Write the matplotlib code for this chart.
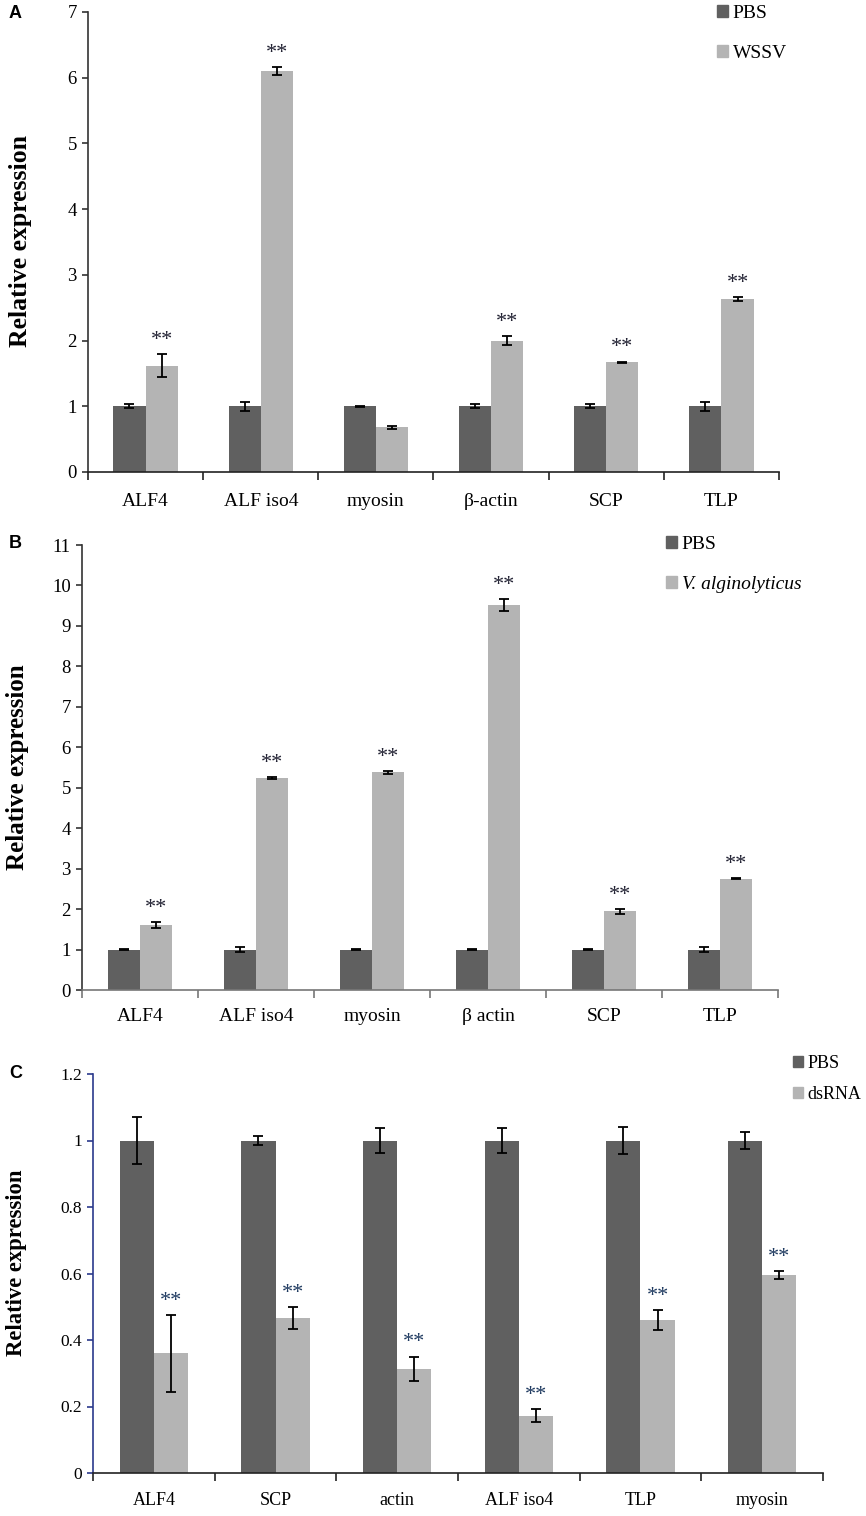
import matplotlib.pyplot as plt
import numpy as np
from matplotlib.patches import Patch

plt.rcParams['font.family'] = ['Liberation Serif', 'DejaVu Serif']

# panel A data
genes_a = ["ALF4", "ALF iso4", "myosin", "β-actin", "SCP", "TLP"]
pbs_a = [1.0, 1.0, 1.0, 1.0, 1.0, 1.0]
pbs_a_err = [0.03, 0.07, 0.01, 0.03, 0.03, 0.07]
wssv_a = [1.62, 6.1, 0.68, 2.0, 1.67, 2.63]
wssv_a_err = [0.18, 0.06, 0.02, 0.07, 0.01, 0.03]
star_a = [True, True, False, True, True, True]

# panel B data
genes_b = ["ALF4", "ALF iso4", "myosin", "β actin", "SCP", "TLP"]
pbs_b = [1.0, 1.0, 1.0, 1.0, 1.0, 1.0]
pbs_b_err = [0.01, 0.07, 0.01, 0.01, 0.01, 0.07]
vib_b = [1.6, 5.24, 5.38, 9.52, 1.95, 2.75]
vib_b_err = [0.07, 0.03, 0.03, 0.15, 0.06, 0.01]
star_b = [True, True, True, True, True, True]

# panel C data
genes_c = ["ALF4", "SCP", "actin", "ALF iso4", "TLP", "myosin"]
pbs_c = [1.0, 1.0, 1.0, 1.0, 1.0, 1.0]
pbs_c_err = [0.072, 0.015, 0.037, 0.037, 0.04, 0.025]
ds_c = [0.36, 0.467, 0.313, 0.172, 0.46, 0.595]
ds_c_err = [0.115, 0.033, 0.037, 0.02, 0.03, 0.013]
star_c = [True, True, True, True, True, True]

dark = '#606060'
light = '#b4b4b4'


def panel(ax, genes, v1, e1, v2, e2, stars, ymax, yticks, star_col,
          left_col, bottom_col, fs, pad):
    x = np.arange(len(genes))
    w = 0.28
    ekw = dict(elinewidth=1.3, capthick=1.3, ecolor='black')
    ax.bar(x - w / 2, v1, w, color=dark, yerr=e1, capsize=3.5, error_kw=ekw)
    ax.bar(x + w / 2, v2, w, color=light, yerr=e2, capsize=3.5, error_kw=ekw)
    for i in range(len(genes)):
        if stars[i]:
            ax.annotate("**", (x[i] + w / 2, v2[i] + e2[i]), xytext=(0, 3),
                        textcoords='offset points', ha='center', va='bottom',
                        fontsize=16, color=star_col)
    ax.set_xlim(-0.5, len(genes) - 0.5)
    ax.set_ylim(0, ymax)
    ax.set_yticks(yticks)
    ax.set_xticks(x)
    ax.set_xticklabels(genes, fontsize=fs)
    ax.set_xticks(np.arange(len(genes) + 1) - 0.5, minor=True)
    ax.tick_params(axis='x', which='major', length=0, pad=pad)
    ax.tick_params(axis='x', which='minor', length=6, width=1.2,
                   direction='out', color=bottom_col)
    ax.tick_params(axis='y', length=4.5, width=1.2, labelsize=fs - 0.5,
                   direction='out', color=left_col)
    ax.spines['top'].set_visible(False)
    ax.spines['right'].set_visible(False)
    ax.spines['left'].set_color(left_col)
    ax.spines['left'].set_linewidth(1.2)
    ax.spines['bottom'].set_color(bottom_col)
    ax.spines['bottom'].set_linewidth(1.2)


def legend(ax, labels, x, y, fs, ls):
    leg = ax.legend(handles=[Patch(color=dark, label=labels[0]),
                             Patch(color=light, label=labels[1])],
                    loc='center left', bbox_to_anchor=(x, y),
                    bbox_transform=fig.transFigure, frameon=False, fontsize=fs,
                    handlelength=0.55, handleheight=0.55, handletextpad=0.25,
                    labelspacing=ls, borderpad=0, borderaxespad=0)
    return leg


W, H = 866, 1516
fig = plt.figure(figsize=(W / 100, H / 100), dpi=100)


def box(l, r, t, b):
    return [l / W, 1 - b / H, (r - l) / W, (b - t) / H]


axa = fig.add_axes(box(88, 779, 12, 472))
panel(axa, genes_a, pbs_a, pbs_a_err, wssv_a, wssv_a_err, star_a, 7,
      range(0, 8), '#222233', '#333333', '#222222', 14, 15)
legend(axa, ['PBS', 'WSSV'], 717 / W, 1 - 33.5 / H, 14, 1.18)

axb = fig.add_axes(box(82, 778, 545, 990))
panel(axb, genes_b, pbs_b, pbs_b_err, vib_b, vib_b_err, star_b, 11,
      range(0, 12), '#222233', '#333333', '#777777', 14, 13)
leg = legend(axb, ['PBS', 'V. alginolyticus'], 666 / W, 1 - 564.5 / H, 14, 1.2)
leg.get_texts()[1].set_style('italic')

axc = fig.add_axes(box(93, 823, 1074, 1473))
panel(axc, genes_c, pbs_c, pbs_c_err, ds_c, ds_c_err, star_c, 1.2,
      [0, 0.2, 0.4, 0.6, 0.8, 1, 1.2], '#1f3a60', '#2b3a8c', '#222222', 13, 14)
axc.set_yticklabels(['0', '0.2', '0.4', '0.6', '0.8', '1', '1.2'])
legend(axc, ['PBS', 'dsRNA'], 793 / W, 1 - 1079 / H, 13, 0.8)

# y axis titles
for xc, yc, fs in [(21, 241, 18.5), (18, 767, 18), (16.5, 1263, 16.3)]:
    fig.text(xc / W, 1 - yc / H, "Relative expression", rotation=90,
             ha='center', va='center', fontsize=fs, fontweight='bold')

# panel letters
for lab, xc, yc in [("A", 9, 13), ("B", 9, 544), ("C", 9, 1074)]:
    fig.text(xc / W, 1 - yc / H, lab, fontsize=13, fontweight='bold',
             family='Liberation Sans', ha='left', va='center')

fig.savefig("out.png", dpi=100)
